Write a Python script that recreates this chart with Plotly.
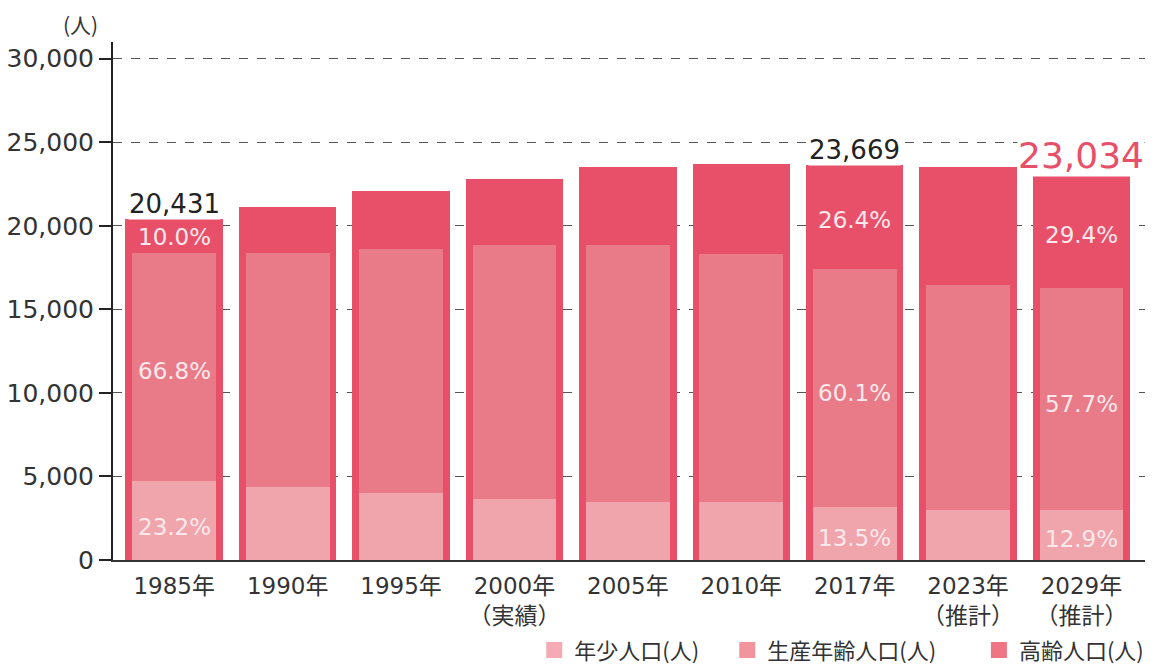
import plotly.graph_objects as go

years = ["1985年", "1990年", "1995年", "2000年<br>（実績）", "2005年", "2010年",
         "2017年", "2023年<br>（推計）", "2029年<br>（推計）"]
young = [4740, 4370, 4010, 3650, 3470, 3470, 3195, 2990, 2971]
working = [13648, 14010, 14610, 15210, 15390, 14850, 14225, 13480, 13291]
elderly = [2043, 2720, 3480, 3940, 4640, 5380, 6249, 7030, 6772]
y_ticks = [0, 5000, 10000, 15000, 20000, 25000, 30000]
series_names = ["年少人口(人)", "生産年齢人口(人)", "高齢人口(人)"]

# bars that carry percentage labels / total labels
pct_bars = [0, 6, 8]
total_bars = [0, 6, 8]

C_YOUNG = "#f0a4ac"
C_WORK = "#e97b89"
C_OLD = "#e85069"
LEG_COLORS = ["#f4abb3", "#f2949e", "#ef7484"]
FONT = "DejaVu Sans, Noto Sans CJK JP, sans-serif"
CJK = "Noto Sans CJK JP, sans-serif"

x = list(range(len(years)))
totals = [a + b + c for a, b, c in zip(young, working, elderly)]
work_top = [a + b for a, b in zip(young, working)]

fig = go.Figure()
fig.add_trace(go.Bar(x=x, y=totals, width=0.86, marker=dict(color=C_OLD, line_width=0),
                     name=series_names[2], showlegend=False))
fig.add_trace(go.Bar(x=x, y=working, base=young, width=0.74, marker=dict(color=C_WORK, line_width=0),
                     name=series_names[1], showlegend=False))
fig.add_trace(go.Bar(x=x, y=young, width=0.74, marker=dict(color=C_YOUNG, line_width=0),
                     name=series_names[0], showlegend=False))

# legend entries (one legend per item so they can be spaced like the original)
legend_ids = ["legend", "legend2", "legend3"]
for name, col, lid in zip(series_names, LEG_COLORS, legend_ids):
    fig.add_trace(go.Scatter(x=[None], y=[None], mode="markers", name=name, legend=lid,
                             marker=dict(symbol="square", size=17, color=col)))

white = "#fbe9ec"
for i in pct_bars:
    t = totals[i]
    segs = [
        (young[i], young[i] * 0.42),
        (working[i], young[i] + working[i] * 0.48),
        (elderly[i], work_top[i] + elderly[i] * 0.47),
    ]
    for v, ypos in segs:
        fig.add_annotation(x=i, y=ypos, text=f"{v / t * 100:.1f}%", showarrow=False,
                           font=dict(family=FONT, size=23, color=white))

for i in total_bars[:-1]:
    fig.add_annotation(x=i, y=totals[i], text=f"{totals[i]:,}", showarrow=False,
                       yanchor="bottom", yshift=-1, bgcolor="white", borderpad=0,
                       font=dict(family=FONT, size=26, color="#222"))
last = total_bars[-1]
fig.add_annotation(x=last, y=totals[last], text=f"{totals[last]:,}", showarrow=False,
                   yanchor="bottom", yshift=-2, bgcolor="white", borderpad=0,
                   font=dict(family=FONT, size=36, color=C_OLD))

fig.add_annotation(xref="paper", yref="paper", x=0, y=1.0, xanchor="right", xshift=-13,
                   yanchor="middle", yshift=18, text="(人)",
                   showarrow=False, font=dict(family=CJK, size=21, color="#333"))

leg_common = dict(orientation="h", xanchor="left", xref="container", yref="container",
                  y=0.03, yanchor="middle", itemwidth=30, itemsizing="trace",
                  font=dict(family=CJK, size=22, color="#333"), bgcolor="rgba(0,0,0,0)")

# page body has an 8px margin, so the figure is sized to fit the window
fig.update_layout(
    barmode="overlay",
    width=1149, height=662,
    margin=dict(l=105, r=12, t=34, b=110, autoexpand=False),
    paper_bgcolor="white", plot_bgcolor="white",
    font=dict(family=FONT, color="#333"),
    showlegend=True,
    legend=dict(x=0.458, **leg_common),
    legend2=dict(x=0.626, **leg_common),
    legend3=dict(x=0.845, **leg_common),
    bargap=0,
)
fig.update_xaxes(
    range=[-0.54, 8.56], tickvals=x, ticktext=years, showline=True, linecolor="#333",
    linewidth=2, ticks="", tickfont=dict(family=FONT, size=23, color="#333"), showgrid=False,
    ticklabelstandoff=4, automargin=False,
)
fig.update_yaxes(
    range=[0, 31000], tickvals=y_ticks, tickformat=",", showline=True, linecolor="#222",
    linewidth=2, ticks="outside", ticklen=12, tickwidth=1.5, tickcolor="#222",
    tickfont=dict(family=FONT, size=25, color="#333"),
    showgrid=True, gridcolor="#555", griddash="dash", gridwidth=1, zeroline=False,
    automargin=False,
)

fig.write_html("out.html")
